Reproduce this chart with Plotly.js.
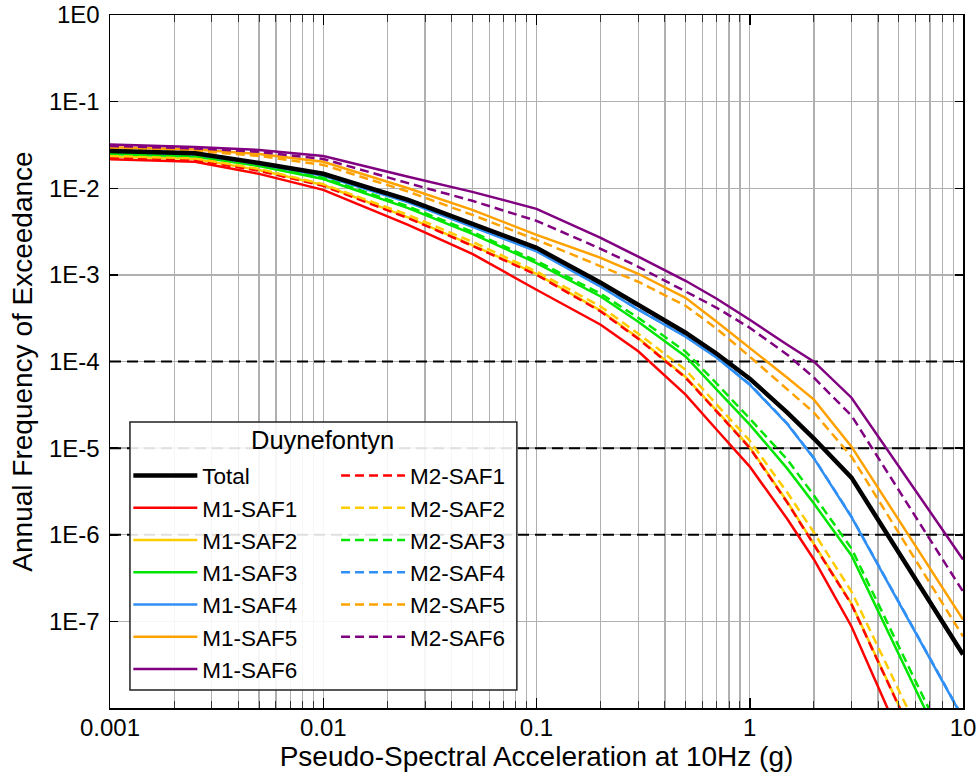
<!DOCTYPE html>
<html>
<head>
<meta charset="utf-8">
<script src="https://cdn.plot.ly/plotly-3.0.1.min.js"></script>
<style>html,body{margin:0;padding:0;background:#fff}#chart{width:980px;height:780px}</style>
</head>
<body>
<div id="chart"></div>
<script>
// Pseudo-spectral acceleration (g)
const psa = [0.001, 0.0025, 0.005, 0.01, 0.025, 0.05, 0.1, 0.2, 0.3, 0.5, 0.7, 1, 1.5, 2, 3, 10];

// Annual frequency of exceedance
const total  = [2.70e-2, 2.53e-2, 1.96e-2, 1.47e-2, 7.35e-3, 3.89e-3, 2.05e-3, 8.11e-4, 4.52e-4, 2.15e-4, 1.23e-4, 6.33e-5, 2.57e-5, 1.29e-5, 4.57e-6, 4.15e-8];
const m1saf1 = [2.165e-2, 2.016e-2, 1.466e-2, 9.58e-3, 3.78e-3, 1.75e-3, 6.73e-4, 2.66e-4, 1.31e-4, 4.14e-5, 1.63e-5, 6.12e-6, 1.52e-6, 5.18e-7, 8.73e-8, 1.05e-10];
const m1saf2 = [2.32e-2, 2.17e-2, 1.62e-2, 1.089e-2, 4.62e-3, 2.21e-3, 1.025e-3, 3.87e-4, 1.87e-4, 6.64e-5, 2.69e-5, 1.027e-5, 2.40e-6, 7.87e-7, 1.60e-7, 2.73e-10];
const m1saf3 = [2.49e-2, 2.33e-2, 1.81e-2, 1.28e-2, 5.89e-3, 2.98e-3, 1.37e-3, 5.63e-4, 2.88e-4, 1.145e-4, 4.73e-5, 1.87e-5, 5.80e-6, 2.29e-6, 5.76e-7, 1.18e-9];
const m1saf4 = [2.63e-2, 2.46e-2, 1.89e-2, 1.39e-2, 6.88e-3, 3.59e-3, 1.87e-3, 7.29e-4, 3.96e-4, 1.93e-4, 1.106e-4, 5.40e-5, 1.90e-5, 7.60e-6, 1.60e-6, 7.59e-9];
const m1saf5 = [2.98e-2, 2.81e-2, 2.49e-2, 2.02e-2, 1.00e-2, 5.63e-3, 2.90e-3, 1.575e-3, 1.03e-3, 5.44e-4, 2.88e-4, 1.44e-4, 6.50e-5, 3.63e-5, 1.04e-5, 1.05e-7];
const m1saf6 = [3.19e-2, 3.00e-2, 2.77e-2, 2.36e-2, 1.36e-2, 9.09e-3, 5.79e-3, 2.68e-3, 1.62e-3, 8.55e-4, 5.30e-4, 3.03e-4, 1.56e-4, 9.95e-5, 3.82e-5, 5.18e-7];
const m2saf1 = [2.27e-2, 2.13e-2, 1.59e-2, 1.066e-2, 4.52e-3, 2.17e-3, 1.003e-3, 3.78e-4, 1.83e-4, 6.50e-5, 2.64e-5, 1.005e-5, 2.35e-6, 7.71e-7, 1.57e-7, 2.67e-10];
const m2saf2 = [2.36e-2, 2.21e-2, 1.67e-2, 1.11e-2, 4.93e-3, 2.41e-3, 1.094e-3, 4.32e-4, 2.09e-4, 8.04e-5, 3.18e-5, 1.22e-5, 3.07e-6, 1.06e-6, 2.21e-7, 4.54e-10];
const m2saf3 = [2.53e-2, 2.36e-2, 1.86e-2, 1.32e-2, 6.18e-3, 3.14e-3, 1.45e-3, 6.05e-4, 3.20e-4, 1.30e-4, 5.55e-5, 2.19e-5, 7.37e-6, 2.83e-6, 6.93e-7, 1.50e-9];
const m2saf4 = [2.66e-2, 2.49e-2, 1.91e-2, 1.41e-2, 6.96e-3, 3.63e-3, 1.895e-3, 7.38e-4, 4.00e-4, 1.955e-4, 1.12e-4, 5.47e-5, 1.92e-5, 7.70e-6, 1.62e-6, 7.7e-9];
const m2saf5 = [2.885e-2, 2.70e-2, 2.36e-2, 1.86e-2, 9.16e-3, 4.93e-3, 2.54e-3, 1.27e-3, 8.33e-4, 4.40e-4, 2.39e-4, 1.14e-4, 4.73e-5, 2.57e-5, 7.98e-6, 6.70e-8];
const m2saf6 = [3.08e-2, 2.885e-2, 2.63e-2, 2.18e-2, 1.145e-2, 7.16e-3, 4.21e-3, 2.00e-3, 1.24e-3, 6.38e-4, 4.17e-4, 2.45e-4, 1.20e-4, 6.50e-5, 2.37e-5, 2.21e-7];

const m1Names = ['M1-SAF1', 'M1-SAF2', 'M1-SAF3', 'M1-SAF4', 'M1-SAF5', 'M1-SAF6'];
const m2Names = ['M2-SAF1', 'M2-SAF2', 'M2-SAF3', 'M2-SAF4', 'M2-SAF5', 'M2-SAF6'];
const safColors = ['#ff0000', '#ffcc00', '#00e600', '#2f8ff5', '#ffa200', '#800080'];
const m1Series = [m1saf1, m1saf2, m1saf3, m1saf4, m1saf5, m1saf6];
const m2Series = [m2saf1, m2saf2, m2saf3, m2saf4, m2saf5, m2saf6];

const refLevels = [1e-4, 1e-5, 1e-6];
const yTickVals = [1, 1e-1, 1e-2, 1e-3, 1e-4, 1e-5, 1e-6, 1e-7];
const yTickText = ['1E0', '1E-1', '1E-2', '1E-3', '1E-4', '1E-5', '1E-6', '1E-7'];
const xTickVals = [0.001, 0.01, 0.1, 1, 10];
const xTickText = ['0.001', '0.01', '0.1', '1', '10'];

const FONT = 'Liberation Sans, Arial, sans-serif';
const GRID = '#b0b0b0';

// minor log grid positions 2..9 per decade
const xMinor = [];
for (let d = -3; d < 1; d++) for (let k = 2; k <= 9; k++) xMinor.push(k * Math.pow(10, d));

const traces = [];
refLevels.forEach(v => traces.push({
  x: [psa[0], psa[psa.length - 1]], y: [v, v], mode: 'lines',
  line: {color: '#000', width: 2, dash: '11px,6px'},
  showlegend: false, hoverinfo: 'skip'
}));
m1Series.forEach((s, i) => traces.push({
  x: psa, y: s, mode: 'lines', name: m1Names[i], legend: 'legend', legendrank: i + 2,
  line: {color: safColors[i], width: 2.5}
}));
m2Series.forEach((s, i) => traces.push({
  x: psa, y: s, mode: 'lines', name: m2Names[i], legend: 'legend2', legendrank: i + 1,
  line: {color: safColors[i], width: 2.5, dash: '9px,5px'}
}));
traces.push({
  x: psa, y: total, mode: 'lines', name: 'Total', legend: 'legend', legendrank: 1,
  line: {color: '#000', width: 4.5}
});

const legendCommon = {
  bgcolor: 'rgba(0,0,0,0)', borderwidth: 0, traceorder: 'normal',
  font: {family: FONT, size: 22.5, color: '#000'}, itemwidth: 64,
  xanchor: 'left', yanchor: 'top'
};

const layout = {
  width: 980, height: 780,
  margin: {l: 110, r: 17, t: 15, b: 72},
  paper_bgcolor: '#fff', plot_bgcolor: '#fff',
  font: {family: FONT, color: '#000'},
  showlegend: true,
  xaxis: {
    type: 'log', range: [-3, 1], tickmode: 'array', tickvals: xTickVals, ticktext: xTickText,
    ticks: 'inside', ticklen: 10, tickwidth: 1.5, tickcolor: '#000',
    showgrid: true, gridcolor: GRID, gridwidth: 1.3,
    minor: {tickmode: 'array', tickvals: xMinor, ticks: 'inside', ticklen: 7, tickwidth: 1, tickcolor: '#333', showgrid: true, gridcolor: GRID, gridwidth: 1.3},
    showline: true, linecolor: '#000', linewidth: 1.5, mirror: 'ticks', zeroline: false,
    tickfont: {family: FONT, size: 24, color: '#000'}, ticklabelstandoff: -2,
    title: {text: 'Pseudo-Spectral Acceleration at 10Hz (g)', font: {family: FONT, size: 28, color: '#000'}, standoff: 6}
  },
  yaxis: {
    type: 'log', range: [-8, 0], tickmode: 'array', tickvals: yTickVals, ticktext: yTickText,
    ticks: 'inside', ticklen: 8, tickwidth: 1.5, tickcolor: '#000',
    showgrid: true, gridcolor: GRID, gridwidth: 1.3,
    showline: true, linecolor: '#000', linewidth: 1.5, mirror: 'ticks', zeroline: false,
    tickfont: {family: FONT, size: 24, color: '#000'}, ticklabelstandoff: 4,
    title: {text: 'Annual Frequency of Exceedance', font: {family: FONT, size: 28, color: '#000'}, standoff: 8}
  },
  legend: Object.assign({}, legendCommon, {x: 0.0215, y: 0.366}),
  legend2: Object.assign({}, legendCommon, {x: 0.265, y: 0.366}),
  shapes: [{
    type: 'rect', xref: 'paper', yref: 'paper', x0: 0.0234, x1: 0.477, y0: 0.026, y1: 0.4127,
    fillcolor: 'rgba(255,255,255,0.88)', line: {color: '#222', width: 1.5}, layer: 'above'
  }],
  annotations: [{
    text: 'Duynefontyn', xref: 'paper', yref: 'paper', x: 0.2497, y: 0.3867,
    xanchor: 'center', yanchor: 'middle', showarrow: false,
    font: {family: FONT, size: 25.5, color: '#000'}
  }]
};

Plotly.newPlot('chart', traces, layout, {displayModeBar: false, staticPlot: true});
</script>
</body>
</html>
